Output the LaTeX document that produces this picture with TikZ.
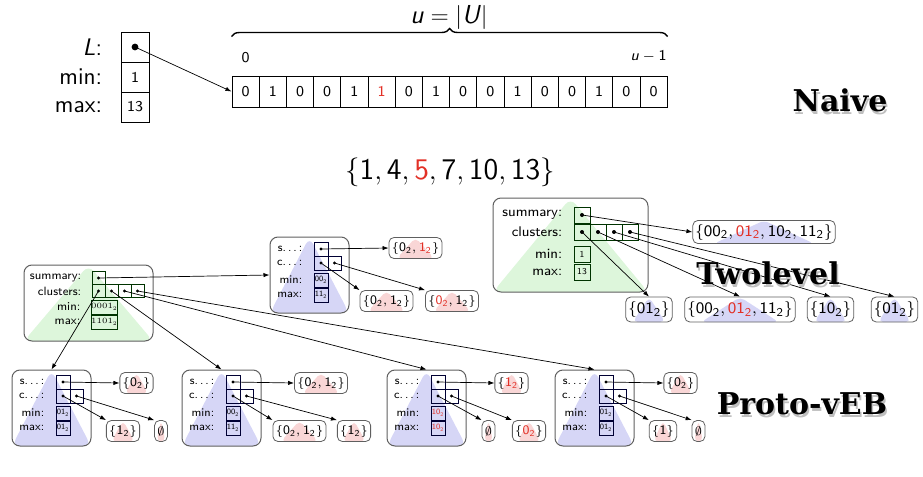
\documentclass[tikz,border=0pt]{standalone}
\usepackage{fontspec}
\newfontfamily\titlefont{DejaVu Serif}
\usetikzlibrary{calc}
\usetikzlibrary{positioning}
\usetikzlibrary{arrows.meta}
\usetikzlibrary{decorations.pathreplacing}

\definecolor{hl}{RGB}{226,48,38}
\definecolor{treegreen}{RGB}{221,246,219}
\definecolor{treeblue}{RGB}{214,214,246}
\definecolor{setpink}{RGB}{249,214,214}
\definecolor{boxgray}{RGB}{95,95,95}

\newcommand{\fsz}[1]{\fontsize{#1}{#1}\selectfont}
\newcommand{\bnum}[1]{\mathsf{#1}_{\mathsf{2}}}
\newcommand{\rbnum}[1]{\textcolor{hl}{\mathsf{#1}_{\mathsf{2}}}}

\tikzset{
  arrcell/.style={draw, line width=0.5pt, minimum width=13.6pt, minimum height=15.5pt, inner sep=0pt, font=\sffamily\fsz{7.5}},
  colcell/.style={draw, line width=0.5pt, minimum width=14pt, minimum height=15pt, inner sep=0pt, font=\sffamily\fsz{7.5}},
  toplbl/.style={font=\sffamily\fsz{12}, inner sep=0pt},
  ptr/.style={-{Latex[length=3pt,width=2.2pt]}, line width=0.35pt},
  tree/.style={draw=boxgray, line width=0.5pt, rounded corners=4pt, inner sep=0pt,
    path picture={\fill[#1] (path picture bounding box.north) -- (path picture bounding box.south west) -- (path picture bounding box.south east) -- cycle;}},
  setbox/.style={draw=boxgray, line width=0.4pt, rounded corners=2.5pt, inner sep=1.3pt,
    path picture={\fill[#1] (path picture bounding box.north)
      -- ($(path picture bounding box.south west)!0.15!(path picture bounding box.south east)$)
      -- ($(path picture bounding box.south west)!0.85!(path picture bounding box.south east)$) -- cycle;}},
  tcell/.style={draw=green!20!black, line width=0.4pt, minimum width=8pt, minimum height=8pt, inner sep=0pt, font=\sffamily\fsz{4.5}},
  pcell/.style={draw=green!20!black, line width=0.4pt, minimum width=6.5pt, minimum height=6.5pt, inner sep=0pt, font=\rmfamily\fsz{4}},
  bcell/.style={draw=blue!20!black, line width=0.4pt, minimum width=7pt, minimum height=7pt, inner sep=0pt, font=\rmfamily\fsz{4}},
  tlbl/.style={font=\sffamily\fsz{7}, inner sep=0pt},
  pmlbl/.style={font=\sffamily\fsz{6}, inner sep=0pt},
  plbl/.style={font=\sffamily\fsz{5.8}, inner sep=0pt},
  titletext/.style={font=\titlefont\bfseries\fsz{15}, inner sep=0pt}
}

\begin{document}
\begin{tikzpicture}[x=0.5pt,y=-0.5pt]
\useasboundingbox (0,0) rectangle (923,477);

% naive bit array
\node[colcell] (Lp) at (135,47) {};
\node[colcell] (Lmin) at (135,77) {1};
\node[colcell] (Lmax) at (135,107) {13};
\node[toplbl, left=9pt of Lp] (lL) {\textit{L}:};
\node[toplbl, left=9pt of Lmin] (lmin) {min:};
\node[toplbl, left=9pt of Lmax] (lmax) {max:};

\foreach \v/\c [count=\i from 0] in {0/black,1/black,0/black,0/black,1/black,1/hl,0/black,1/black,0/black,0/black,1/black,0/black,0/black,1/black,0/black,0/black}
  \node[arrcell, text=\c] (a\i) at ({245.6+27.2*\i},91.5) {\v};

\draw[decorate, decoration={brace, amplitude=4pt}, line width=0.7pt] ([yshift=19.5pt]a0.north west) -- ([yshift=19.5pt]a15.north east);
\node[font=\sffamily\fsz{13}] (usize) at (449,17) {$\textsf{\textit{u}} = |\textsf{\textit{U}}|$};
\node[font=\sffamily\fsz{7.5}, anchor=south] (first) at ([yshift=3pt]a0.north) {0};
\node[font=\sffamily\fsz{7.5}, anchor=south east] (last) at ([yshift=3pt,xshift=3pt]a15.north east) {$\textsf{\textit{u}} - \mathsf{1}$};

\fill (Lp) circle (1.7pt);
\draw[ptr] (Lp.center) -- (a0.west);

\node[titletext, text=black!25] at (841.5,103) {Naive};
\node[titletext] (naive) at (840,100) {Naive};

% the set
\node[font=\sffamily\fsz{15}] (S) at (450,172) {$\{\mathsf{1},\mathsf{4},\textcolor{hl}{\mathsf{5}},\mathsf{7},\mathsf{10},\mathsf{13}\}$};

% twolevel
\node[tree=treegreen, minimum width=77.5pt, minimum height=47pt] (tl) at (570.5,245) {};
\node[tcell] (tls) at (582,215) {};
\foreach \i in {1,...,4}
  \node[tcell] (tlc\i) at ({566+16*\i},232) {};
\node[tcell] (tlmin) at (582,254) {1};
\node[tcell] (tlmax) at (582,272) {13};
\node[tlbl, left=5.5pt of tls] (tlls) {summary:};
\node[tlbl, left=5.5pt of tlc1] (tllc) {clusters:};
\node[tlbl, left=5.5pt of tlmin] (tllmin) {min:};
\node[tlbl, left=5.5pt of tlmax] (tllmax) {max:};

\node[setbox=treeblue, font=\sffamily\fsz{8}, minimum height=11.5pt] (tw) at (764,232) {$\{\bnum{00},\rbnum{01},\bnum{10},\bnum{11}\}$};
\node[setbox=treeblue, font=\sffamily\fsz{8}, minimum height=12.5pt] (tw1) at (649,309.5) {$\{\bnum{01}\}$};
\node[setbox=treeblue, font=\sffamily\fsz{8}, minimum height=12.5pt] (tw2) at (740,309.5) {$\{\bnum{00},\rbnum{01},\bnum{11}\}$};
\node[setbox=treeblue, font=\sffamily\fsz{8}, minimum height=12.5pt] (tw3) at (830.5,309.5) {$\{\bnum{10}\}$};
\node[setbox=treeblue, font=\sffamily\fsz{8}, minimum height=12.5pt] (tw4) at (894.5,309.5) {$\{\bnum{01}\}$};

\fill (tls) circle (1pt);
\draw[ptr] (tls.center) -- (tw.west);
\foreach \i in {1,...,4} {
  \fill (tlc\i) circle (1pt);
  \draw[ptr] (tlc\i.center) -- (tw\i.north);
}

\node[titletext, text=black!25] at (769.5,276) {Twolevel};
\node[titletext] (twolevel) at (768,273) {Twolevel};

% proto-vEB, top level
\node[tree=treegreen, minimum width=64.5pt, minimum height=38pt] (pm) at (88.5,303) {};
\node[pcell] (pms) at (98.5,278) {};
\foreach \i in {1,...,4}
  \node[pcell] (pmc\i) at ({85.5+13*\i},291) {};
\node[pcell, minimum width=12.5pt, minimum height=7pt] (pmmin) at (104.5,307) {$\mathrm{0001}_{\mathrm{2}}$};
\node[pcell, minimum width=12.5pt, minimum height=7pt] (pmmax) at (104.5,322) {$\mathrm{1101}_{\mathrm{2}}$};
\node[pmlbl, left=5pt of pms] (pmls) {summary:};
\node[pmlbl, left=5pt of pmc1] (pmlc) {clusters:};
\node[pmlbl, left=5pt of pmmin] (pmlmin) {min:};
\node[pmlbl, left=5pt of pmmax] (pmlmax) {max:};

% proto-vEB, summary and clusters
\foreach \n/\x/\t/\mn/\mx in {p0/270/237/{\bnum{00}}/{\bnum{11}}, p1/12/370/{\bnum{01}}/{\bnum{01}}, p2/182/370/{\bnum{00}}/{\bnum{11}}, p3/387/370/{\rbnum{10}}/{\rbnum{10}}, p4/555/370/{\bnum{01}}/{\bnum{01}}} {
  \node[tree=treeblue, minimum width=39.5pt, minimum height=38pt] (\n) at ({\x+39.5},{\t+38}) {};
  \node[bcell] (\n-s) at ({\x+51},{\t+12}) {};
  \node[bcell] (\n-c1) at ({\x+51},{\t+26}) {};
  \node[bcell, minimum width=6.5pt] (\n-c2) at ({\x+64.5},{\t+26}) {};
  \node[bcell] (\n-min) at ({\x+51},{\t+43}) {$\mn$};
  \node[bcell] (\n-max) at ({\x+51},{\t+58}) {$\mx$};
  \node[plbl, left=5.5pt of \n-s] (\n-ls) {s.\,.\,.\,:};
  \node[plbl, left=5.5pt of \n-c1] (\n-lc) {c.\,.\,.\,:};
  \node[plbl, left=5.5pt of \n-min] (\n-lmin) {min:};
  \node[plbl, left=5.5pt of \n-max] (\n-lmax) {max:};
}

\tikzset{pset/.style={setbox=setpink, font=\sffamily\fsz{6.5}, minimum height=10.5pt}}
\node[pset] (p0-ss) at (415.5,248) {$\{\bnum{0},\rbnum{1}\}$};
\node[pset] (p0-s1) at (386.5,301) {$\{\bnum{0},\bnum{1}\}$};
\node[pset] (p0-s2) at (452,301) {$\{\rbnum{0},\bnum{1}\}$};
\node[pset] (p1-ss) at (136.5,383) {$\{\bnum{0}\}$};
\node[pset] (p1-s1) at (123,431) {$\{\bnum{1}\}$};
\node[pset] (p1-s2) at (161,431) {$\emptyset$};
\node[pset] (p2-ss) at (321,383) {$\{\bnum{0},\bnum{1}\}$};
\node[pset] (p2-s1) at (299.5,431) {$\{\bnum{0},\bnum{1}\}$};
\node[pset] (p2-s2) at (354,431) {$\{\bnum{1}\}$};
\node[pset] (p3-ss) at (511.5,383) {$\{\rbnum{1}\}$};
\node[pset] (p3-s1) at (488.5,431) {$\emptyset$};
\node[pset] (p3-s2) at (529,431) {$\{\rbnum{0}\}$};
\node[pset] (p4-ss) at (680.5,383) {$\{\bnum{0}\}$};
\node[pset] (p4-s1) at (663,431) {$\{\mathsf{1}\}$};
\node[pset] (p4-s2) at (698.5,431) {$\emptyset$};

\foreach \n in {p0,p1,p2,p3,p4} {
  \fill (\n-s) circle (0.8pt);
  \fill (\n-c1) circle (0.8pt);
  \fill (\n-c2) circle (0.8pt);
  \draw[ptr] (\n-s.center) -- (\n-ss.west);
  \draw[ptr] (\n-c1.center) -- (\n-s1.north west);
  \draw[ptr] (\n-c2.center) -- (\n-s2.north west);
}

\fill (pms) circle (0.8pt);
\draw[ptr] (pms.center) -- (p0.west);
\foreach \i in {1,...,4} {
  \fill (pmc\i) circle (0.8pt);
  \draw[ptr] (pmc\i.center) -- (p\i.north);
}

\node[titletext, text=black!25] at (803.5,407) {Proto-vEB};
\node[titletext] (protoveb) at (802,404) {Proto-vEB};
\end{tikzpicture}
\end{document}
